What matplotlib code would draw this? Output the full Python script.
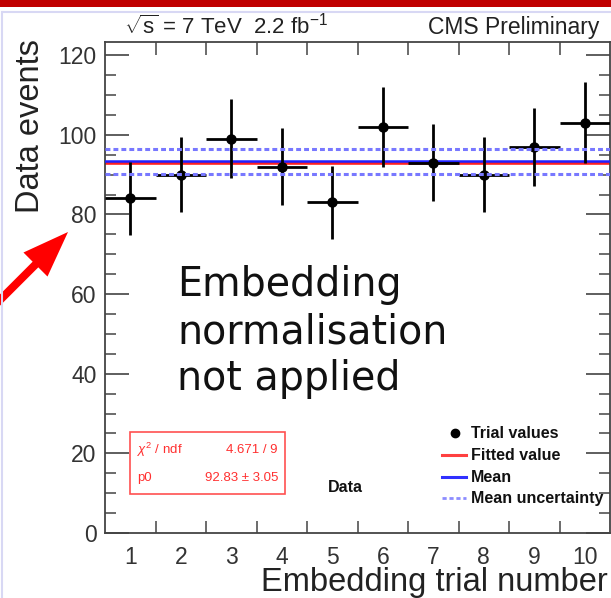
import numpy as np
import matplotlib
matplotlib.use("Agg")
import matplotlib.pyplot as plt
from matplotlib.lines import Line2D
from matplotlib.patches import Rectangle, Polygon

# --- data -------------------------------------------------------------
trials = [1, 2, 3, 4, 5, 6, 7, 8, 9, 10]
events = [84, 90, 99, 92, 83, 102, 93, 90, 97, 103]
fit_p0 = 92.83
fit_p0_err = 3.05
chi2 = 4.671
ndf = 9
mean_value = 93.3
mean_unc = 3.1
x_tick_labels = ["1", "2", "3", "4", "5", "6", "7", "8", "9", "10"]
y_ticks = [0, 20, 40, 60, 80, 100, 120]

W, H = 611, 598
DPI = 100
plt.rcParams["mathtext.fontset"] = "custom"
plt.rcParams["mathtext.rm"] = "Liberation Sans"
plt.rcParams["mathtext.it"] = "Liberation Sans:italic"
plt.rcParams["font.family"] = ["Liberation Sans", "DejaVu Sans"]

fig = plt.figure(figsize=(W / DPI, H / DPI), dpi=DPI)


def fx(px):
    return px / W


def fy(py):
    return 1 - py / H


# slide decoration: red header strip and pale frame
fig.add_artist(Rectangle((0, fy(7)), 1, 7 / H, transform=fig.transFigure,
                         color="#c00000", lw=0))
fig.add_artist(Line2D([fx(3), 1], [fy(12), fy(12)], transform=fig.transFigure,
                      color="#d8d8f4", lw=1.5))
fig.add_artist(Line2D([fx(2), fx(2)], [0, fy(12)], transform=fig.transFigure,
                      color="#d8d8f4", lw=1.5))

# --- axes -------------------------------------------------------------
ax_l, ax_r, ax_t, ax_b = 105, 610, 42, 533
ax = fig.add_axes([fx(ax_l), fy(ax_b), (ax_r - ax_l) / W, (ax_b - ax_t) / H])
ax.set_xlim(0.5, 10.5)
ax.set_ylim(0, 123.3)

x = np.array(trials, dtype=float)
y = np.array(events, dtype=float)
yerr = np.sqrt(y)

# fitted constant and mean with its uncertainty band
ax.axhline(fit_p0, color="#ff2020", lw=2.6, zorder=2)
ax.axhline(mean_value, color="#2020ff", lw=1.8, zorder=3)
for yy in (mean_value - mean_unc, mean_value + mean_unc):
    ax.axhline(yy, color="#7878ff", lw=2.2, dashes=(1.6, 1.0), zorder=4)

ax.errorbar(x, y, xerr=0.5, yerr=yerr, fmt="o", color="black",
            ms=6.5, elinewidth=2.0, capsize=0, zorder=3)

# ticks
ax.set_yticks(y_ticks)
ax.set_yticks(np.arange(0, 123, 5), minor=True)
ax.set_xticks(trials)
ax.set_xticklabels(x_tick_labels)
ax.set_xticks(np.arange(1.5, 10.0, 1.0), minor=True)
ax.tick_params(axis="x", which="major", length=0, labelsize=16.5, pad=9,
               colors="#333333")
ax.tick_params(axis="x", which="minor", length=9, width=1.1, direction="in",
               top=True, color="#444444")
ax.tick_params(axis="y", which="major", length=17, width=1.1, direction="in",
               right=True, labelsize=16.5, pad=6, colors="#333333")
ax.tick_params(axis="y", which="minor", length=8, width=1.1, direction="in",
               right=True, color="#444444")
for s in ax.spines.values():
    s.set_color("#444444")
    s.set_linewidth(1.3)

# axis titles
fig.text(fx(31), fy(39), "Data events", rotation=90, ha="center", va="top",
         fontsize=23.5, color="#222222")
fig.text(fx(608), fy(591), "Embedding trial number", ha="right",
         va="baseline", fontsize=23.5, color="#222222")

# header
fig.text(fx(124), fy(34), r"$\sqrt{\mathrm{s}}$ = 7 TeV  2.2 fb$^{\mathrm{-1}}$",
         ha="left", va="baseline", fontsize=16, color="#222222")
fig.text(fx(599), fy(34), "CMS Preliminary", ha="right", va="baseline",
         fontsize=16.5, color="#222222")

# annotation
for txt, base in (("Embedding", 296), ("normalisation", 343),
                  ("not applied", 390)):
    fig.text(fx(177), fy(base), txt, ha="left", va="baseline",
             fontsize=28.5, family="DejaVu Sans", color="#111111")

# fit statistics box
fig.add_artist(Rectangle((fx(130), fy(494)), (285 - 130) / W, (494 - 432) / H,
                         transform=fig.transFigure, fill=False,
                         edgecolor="#ff5050", lw=1.2))
fig.text(fx(137), fy(450), r"$\chi^{2}$ / ndf", ha="left", va="center",
         fontsize=9.5, color="#ff3030")
fig.text(fx(278), fy(450), f"{chi2:.3f} / {ndf}", ha="right", va="center",
         fontsize=9.5, color="#ff3030")
fig.text(fx(137), fy(478), "p0", ha="left", va="center",
         fontsize=9.5, color="#ff3030")
fig.text(fx(278), fy(478), f"{fit_p0:.2f} \u00b1 {fit_p0_err:.2f}",
         ha="right", va="center", fontsize=9.5, color="#ff3030")

fig.text(fx(345), fy(487), "Data", ha="center", va="center",
         fontsize=11.5, fontweight="bold", color="#111111")

# legend
leg_rows = [433, 455, 477, 498]
leg_labels = ["Trial values", "Fitted value", "Mean", "Mean uncertainty"]
fig.add_artist(Line2D([fx(455)], [fy(leg_rows[0])], transform=fig.transFigure,
                      marker="o", color="black", ms=6, lw=0))
fig.add_artist(Line2D([fx(442), fx(466)], [fy(leg_rows[1])] * 2,
                      transform=fig.transFigure, color="#ff4040", lw=2.2))
fig.add_artist(Line2D([fx(442), fx(466)], [fy(leg_rows[2])] * 2,
                      transform=fig.transFigure, color="#3030ff", lw=2.2))
fig.add_artist(Line2D([fx(442), fx(466)], [fy(leg_rows[3])] * 2,
                      transform=fig.transFigure, color="#8c8cff", lw=2.0,
                      dashes=(1.5, 1.0)))
for row, lab in zip(leg_rows, leg_labels):
    fig.text(fx(471), fy(row), lab, ha="left", va="center", fontsize=11.5,
             fontweight="bold", color="#111111")

# red pointer arrow
tip = np.array([68.0, 232.0])
d = np.array([1.0, -1.0]) / np.sqrt(2)
n = np.array([1.0, 1.0]) / np.sqrt(2)
head_len, head_w, shaft_w = 46, 34, 8
base = tip - d * head_len
tail = tip - d * 120
pts_px = [tail + n * shaft_w / 2, base + n * shaft_w / 2, base + n * head_w / 2,
          tip, base - n * head_w / 2, base - n * shaft_w / 2,
          tail - n * shaft_w / 2]
pts = [(fx(p[0]), fy(p[1])) for p in pts_px]
fig.add_artist(Polygon(pts, closed=True, transform=fig.transFigure,
                       color="#ff0000", lw=0))

fig.savefig("out.png", dpi=DPI)
